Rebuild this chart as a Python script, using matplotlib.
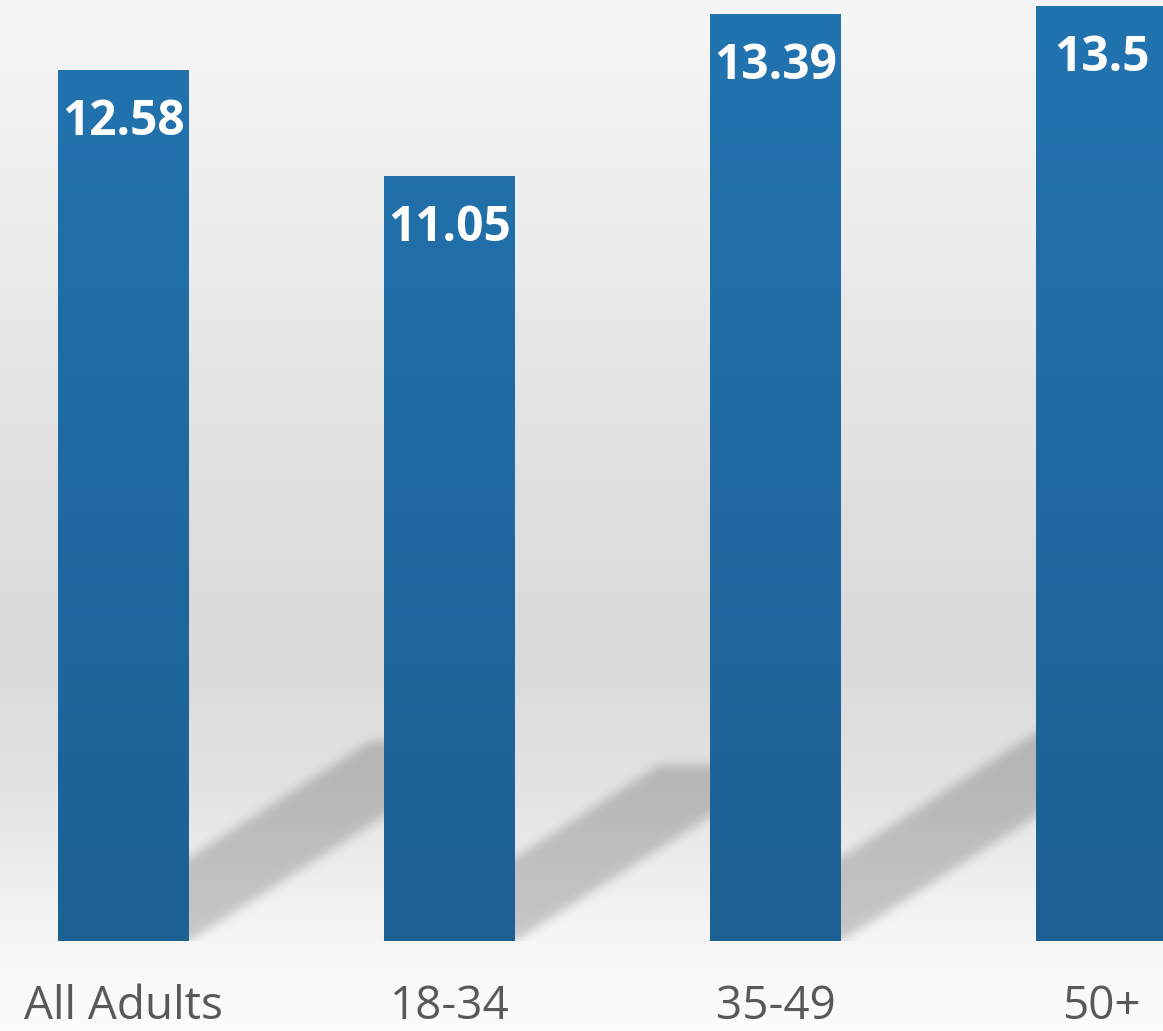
import numpy as np
import matplotlib
matplotlib.use("Agg")
import matplotlib.pyplot as plt
from matplotlib.path import Path
from matplotlib.colors import LinearSegmentedColormap

# ---- data ----
categories = ["All Adults", "18-34", "35-49", "50+"]
values = [12.58, 11.05, 13.39, 13.5]
value_labels = ["12.58", "11.05", "13.39", "13.5"]

# ---- canvas geometry (pixels) ----
W, H, DPI = 1163, 1031, 100
BASE_PX = 941          # baseline row of the plot area
PX_PER_X = 326.0       # pixels per category step
PX_PER_Y = 69.25       # pixels per value unit
BAR_W = 131 / PX_PER_X
X0 = -123.5 / PX_PER_X
X1 = X0 + W / PX_PER_X
Y1 = BASE_PX / PX_PER_Y

fig = plt.figure(figsize=(W / DPI, H / DPI), dpi=DPI)

# ---- background: soft vertical grey gradient ----
bg = fig.add_axes([0, 0, 1, 1], zorder=0)
rows = np.arange(H)
stops_y = [0, 250, 500, 650, 780, 880, 941, 1031]
stops_v = [0.965, 0.925, 0.875, 0.855, 0.885, 0.935, 0.965, 0.99]
shade = np.interp(rows, stops_y, stops_v)
bg.imshow(np.repeat(shade[:, None], 3, axis=1)[:, None, :].repeat(4, axis=1),
          aspect="auto", extent=(0, 1, 0, 1), origin="upper", interpolation="bilinear")
bg.set_xlim(0, 1)
bg.set_ylim(0, 1)
bg.axis("off")

# ---- main axes ----
ax = fig.add_axes([0, (H - BASE_PX) / H, 1, BASE_PX / H], zorder=1)
ax.patch.set_alpha(0)
ax.set_xlim(X0, X1)
ax.set_ylim(0, Y1)
ax.axis("off")

x = np.arange(len(categories))

# ---- cast shadows (projected bars, blurred) ----
SHIFT_X = 0.36 * PX_PER_Y / PX_PER_X
SHIFT_Y = 0.23
nx, ny = W, BASE_PX
gx = X0 + (np.arange(nx) + 0.5) / PX_PER_X
gy = Y1 - (np.arange(ny) + 0.5) / PX_PER_Y
GX, GY = np.meshgrid(gx, gy)
pts = np.column_stack([GX.ravel(), GY.ravel()])
mask = np.zeros(GX.size, dtype=bool)
for xi, v in zip(x, values):
    l, r = xi - BAR_W / 2, xi + BAR_W / 2
    verts = [(l, 0), (r, 0), (r + SHIFT_X * v, SHIFT_Y * v),
             (l + SHIFT_X * v, SHIFT_Y * v), (l, 0)]
    mask |= Path(verts).contains_points(pts)
mask = mask.reshape(ny, nx).astype(float)


def blur(a, sigma):
    k = np.arange(-3 * sigma, 3 * sigma + 1)
    kern = np.exp(-0.5 * (k / sigma) ** 2)
    kern /= kern.sum()
    a = np.apply_along_axis(lambda m: np.convolve(m, kern, mode="same"), 1, a)
    a = np.apply_along_axis(lambda m: np.convolve(m, kern, mode="same"), 0, a)
    return a


mask = blur(mask, 5)
shadow = np.zeros((ny, nx, 4))
shadow[..., 3] = mask * 0.19
ax.imshow(shadow, extent=(X0, X1, 0, Y1), origin="upper", aspect="auto",
          zorder=1, interpolation="bilinear")

# ---- bars with a gentle vertical gradient ----
bar_cmap = LinearSegmentedColormap.from_list(
    "barblue", [(29 / 255, 96 / 255, 147 / 255), (34 / 255, 116 / 255, 176 / 255)])
bars = ax.bar(x, values, width=BAR_W, color="none", edgecolor="none", zorder=2)
grad = np.linspace(1, 0, 256)[:, None]
for b in bars:
    im = ax.imshow(grad, cmap=bar_cmap, vmin=0, vmax=1, aspect="auto",
                   extent=(b.get_x(), b.get_x() + b.get_width(), 0, Y1),
                   origin="upper", zorder=2, interpolation="bilinear")
    im.set_clip_path(b)
ax.set_xlim(X0, X1)
ax.set_ylim(0, Y1)

# ---- value labels inside bar tops ----
for xi, v, lab in zip(x, values, value_labels):
    ax.text(xi, v - 65 / PX_PER_Y, lab, ha="center", va="baseline",
            color="white", fontsize=34.5, fontweight="bold",
            family="Open Sans", zorder=3)

# ---- category labels ----
for xi, cat in zip(x, categories):
    ax.text(xi, -(1019 - BASE_PX) / PX_PER_Y, cat, ha="center", va="baseline",
            color="#595959", fontsize=33, family="Open Sans",
            clip_on=False, zorder=3)

fig.savefig("out.png", dpi=DPI)
